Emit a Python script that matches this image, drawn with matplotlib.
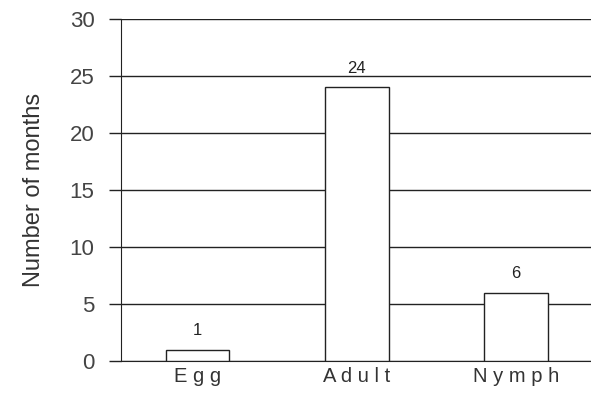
import matplotlib
matplotlib.use("Agg")
import matplotlib.pyplot as plt

# data
stages = ["Egg", "Adult", "Nymph"]
months = [1, 24, 6]
yticks = [0, 5, 10, 15, 20, 25, 30]

plt.rcParams['font.family'] = ['Liberation Sans', 'DejaVu Sans']

fig = plt.figure(figsize=(5.91, 4.01), dpi=100)
ax = fig.add_axes([0.2047, 0.0998, 0.7953, 0.8528])

xpos = range(len(stages))
ax.set_axisbelow(True)
ax.yaxis.grid(True, color='#222222', linewidth=1.0)
bars = ax.bar(xpos, months, width=0.4, color='white', edgecolor='#222222', linewidth=1.0, zorder=3)

for x, v in zip(xpos, months):
    ax.annotate(str(v), (x, v), xytext=(0, 8), textcoords='offset points',
                ha='center', va='bottom', fontsize=12, color='#222222')

ax.set_xlim(-0.48, 2.47)
ax.set_ylim(0, 30)
ax.set_yticks(yticks)
ax.set_xticks(list(xpos))
# the scan shows the category names letter-spaced
ax.set_xticklabels([" ".join(s) for s in stages], fontsize=14.5, color='#333333')
ax.tick_params(axis='y', length=9, width=1.0, color='#222222', labelsize=16,
               labelcolor='#444444', pad=10)
ax.tick_params(axis='x', length=0, pad=4)
ax.set_ylabel("Number of months", fontsize=17, color='#333333', labelpad=18)

for s in ['top', 'right']:
    ax.spines[s].set_visible(False)
ax.spines['left'].set_color('#222222')
ax.spines['bottom'].set_color('#222222')

fig.savefig("out.png", dpi=100)
